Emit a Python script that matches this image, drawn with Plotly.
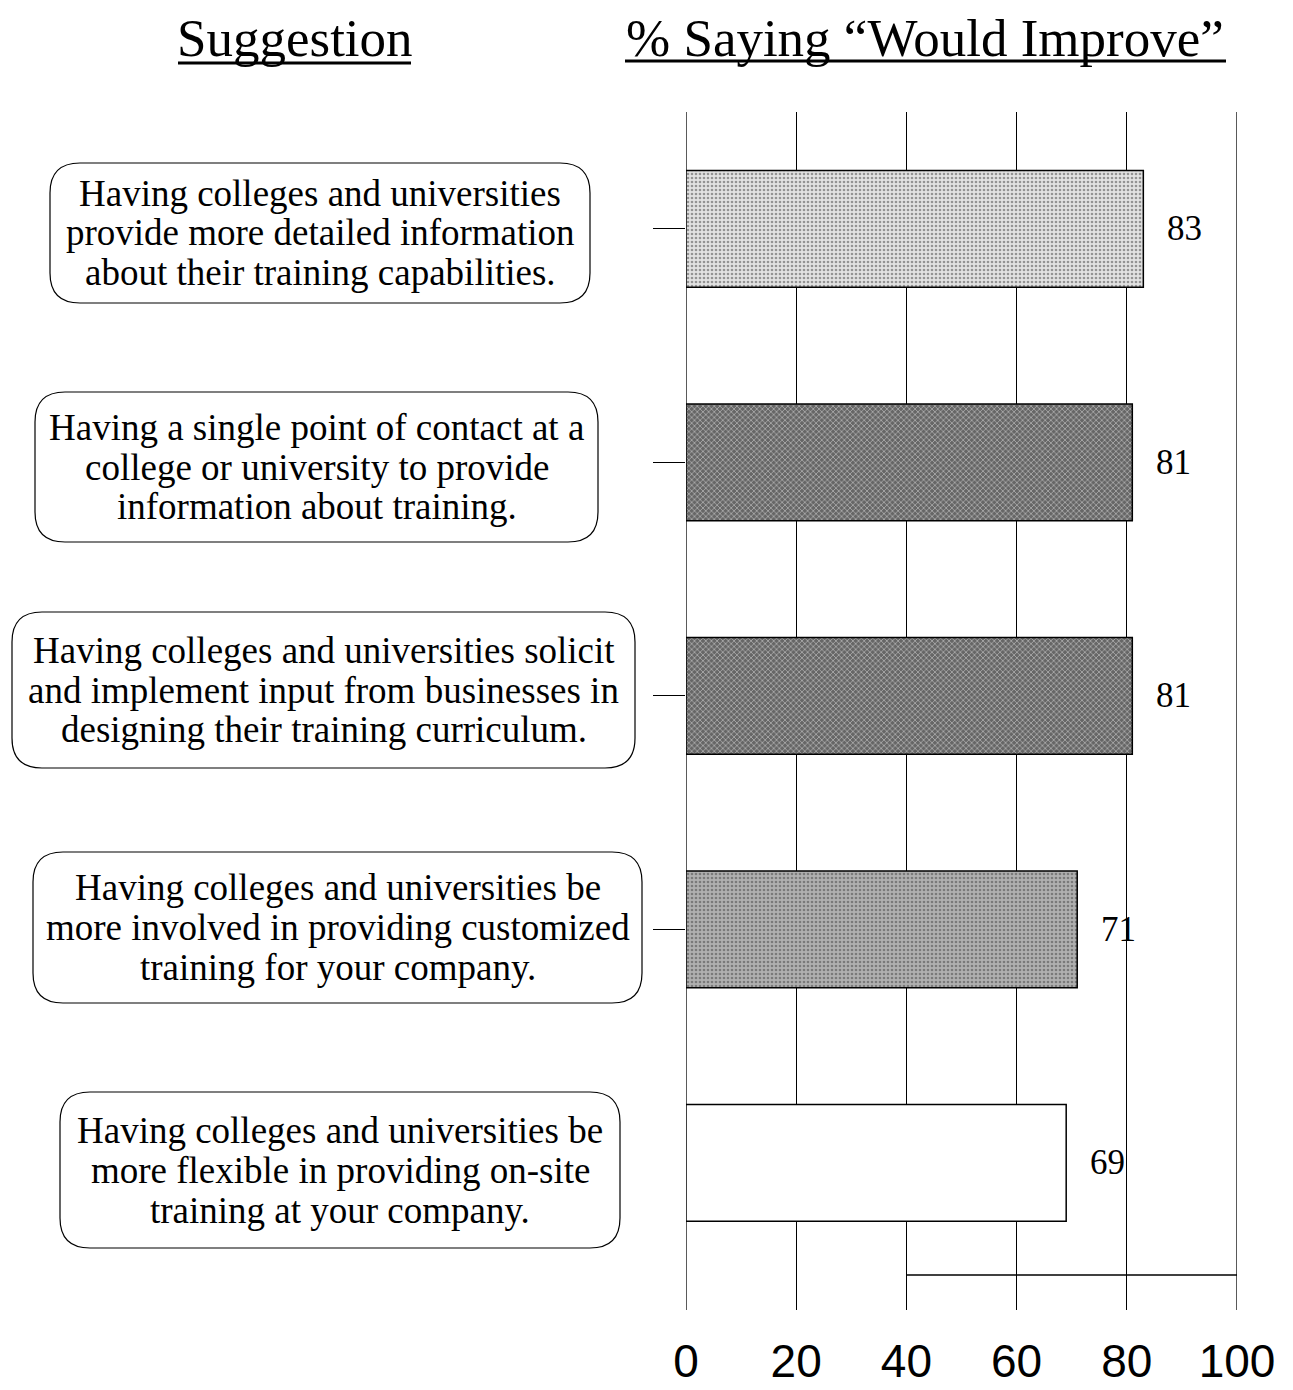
import plotly.graph_objects as go

# ---------------- data ----------------
suggestion_lines = [
    ["Having colleges and universities",
     "provide more detailed information",
     "about their training capabilities."],
    ["Having a single point of contact at a",
     "college or university to provide",
     "information about training."],
    ["Having colleges and universities solicit",
     "and implement input from businesses in",
     "designing their training curriculum."],
    ["Having colleges and universities be",
     "more involved in providing customized",
     "training for your company."],
    ["Having colleges and universities be",
     "more flexible in providing on-site",
     "training at your company."],
]
categories = [" ".join(l) for l in suggestion_lines]
pct_would_improve = [83, 81, 81, 71, 69]
x_tick_values = [0, 20, 40, 60, 80, 100]
x_tick_labels = ["0", "20", "40", "60", "80", "100"]
header_left = "Suggestion"
header_right = "% Saying \u201cWould Improve\u201d"

# ---------------- styles / layout ----------------
W, H = 1293, 1390
def px(x):
    return x / W
def py(y):
    return 1 - y / H

bar_colors = ["#e2e2e2", "#666666", "#666666", "#b0b0b0", "#ffffff"]
pattern_fg = ["#8a8a8a", "#262626", "#262626", "#6a6a6a", "#ffffff"]
pattern_shape = [".", "x", "x", ".", ""]

# label boxes (pixel geometry): left, top, right, bottom
boxes = [
    (50, 163, 590, 303),
    (35, 392, 598, 542),
    (12, 612, 635, 768),
    (33, 852, 642, 1003),
    (60, 1092, 620, 1248),
]
line_gap = 40
serif = "Liberation Serif, Times New Roman, serif"
sans = "Liberation Sans, Arial, sans-serif"

plot_left, plot_right = 686, 1237
plot_top, plot_bottom = 112, 1310
cat_step = 233.5
y_top_val = -0.5
y_bot_val = y_top_val + (plot_bottom - plot_top) / cat_step

fig = go.Figure()
fig.add_trace(go.Bar(
    x=pct_would_improve,
    y=categories,
    orientation="h",
    width=0.5,
    marker=dict(
        color=bar_colors,
        line=dict(color="black", width=1.5),
        pattern=dict(shape=pattern_shape, fgcolor=pattern_fg, size=4, solidity=0.35),
    ),
    showlegend=False,
    hoverinfo="x+y",
))

annotations = []
# value labels
for cat, v in zip(categories, pct_would_improve):
    annotations.append(dict(
        x=v, y=cat, xref="x", yref="y", text=str(v), showarrow=False,
        xanchor="left", yanchor="middle", xshift=22,
        font=dict(family=serif, size=35, color="black"),
    ))

shapes = []
# edge gridlines (0 and 100), which plotly omits at the range ends
for xv in (x_tick_values[0], x_tick_values[-1]):
    shapes.append(dict(type="line", xref="x", yref="paper", x0=xv, x1=xv,
                       y0=py(plot_bottom), y1=py(plot_top), layer="below",
                       line=dict(color="black", width=1.3)))

# label boxes + text
for (l, t, r, b), lines in zip(boxes, suggestion_lines):
    rad = 30
    path = (f"M {px(l+rad)},{py(t)} L {px(r-rad)},{py(t)} "
            f"Q {px(r)},{py(t)} {px(r)},{py(t+rad)} "
            f"L {px(r)},{py(b-rad)} Q {px(r)},{py(b)} {px(r-rad)},{py(b)} "
            f"L {px(l+rad)},{py(b)} Q {px(l)},{py(b)} {px(l)},{py(b-rad)} "
            f"L {px(l)},{py(t+rad)} Q {px(l)},{py(t)} {px(l+rad)},{py(t)} Z")
    shapes.append(dict(type="path", path=path, xref="paper", yref="paper",
                       line=dict(color="black", width=1.2), fillcolor="rgba(0,0,0,0)"))
    cx = (l + r) / 2
    cy = (t + b) / 2
    n = len(lines)
    for i, txt in enumerate(lines):
        yy = cy + (i - (n - 1) / 2) * line_gap
        annotations.append(dict(
            x=px(cx), y=py(yy), xref="paper", yref="paper", text=txt,
            showarrow=False, xanchor="center", yanchor="middle",
            font=dict(family=serif, size=37, color="black"),
        ))

# headers
annotations.append(dict(x=px(295), y=py(38), xref="paper", yref="paper",
                        text=header_left, showarrow=False, xanchor="center",
                        yanchor="middle", font=dict(family=serif, size=53, color="black")))
annotations.append(dict(x=px(925), y=py(38), xref="paper", yref="paper",
                        text=header_right, showarrow=False, xanchor="center",
                        yanchor="middle", font=dict(family=serif, size=53, color="black")))
shapes.append(dict(type="line", xref="paper", yref="paper", x0=px(178), x1=px(411),
                   y0=py(63), y1=py(63), line=dict(color="black", width=3)))
shapes.append(dict(type="line", xref="paper", yref="paper", x0=px(625), x1=px(1226),
                   y0=py(61), y1=py(61), line=dict(color="black", width=3)))

# partial bottom rule
shapes.append(dict(type="line", xref="x", yref="paper", x0=40, x1=100,
                   y0=py(1275), y1=py(1275), line=dict(color="black", width=1.3)))

fig.update_layout(
    width=W, height=H,
    margin=dict(l=0, r=0, t=0, b=0, autoexpand=False),
    paper_bgcolor="white", plot_bgcolor="white",
    annotations=annotations,
    shapes=shapes,
    xaxis=dict(
        domain=[px(plot_left), px(plot_right)],
        range=[0, 100],
        tickvals=x_tick_values, ticktext=x_tick_labels,
        showgrid=True, gridcolor="black", gridwidth=1.3,
        zeroline=False, showline=False, ticks="",
        tickfont=dict(family=sans, size=46, color="black"),
        ticklabelstandoff=20,
        automargin=False,
    ),
    yaxis=dict(
        domain=[py(plot_bottom), py(plot_top)],
        type="category",
        categoryorder="array", categoryarray=categories,
        range=[y_bot_val, y_top_val],
        showgrid=False, zeroline=False, showline=False,
        showticklabels=False, automargin=False,
        tickmode="array", tickvals=categories[:4],
        ticks="outside", ticklen=32, tickwidth=1.3, tickcolor="black",
    ),
    bargap=0.5,
)

fig.write_html("out.html")
